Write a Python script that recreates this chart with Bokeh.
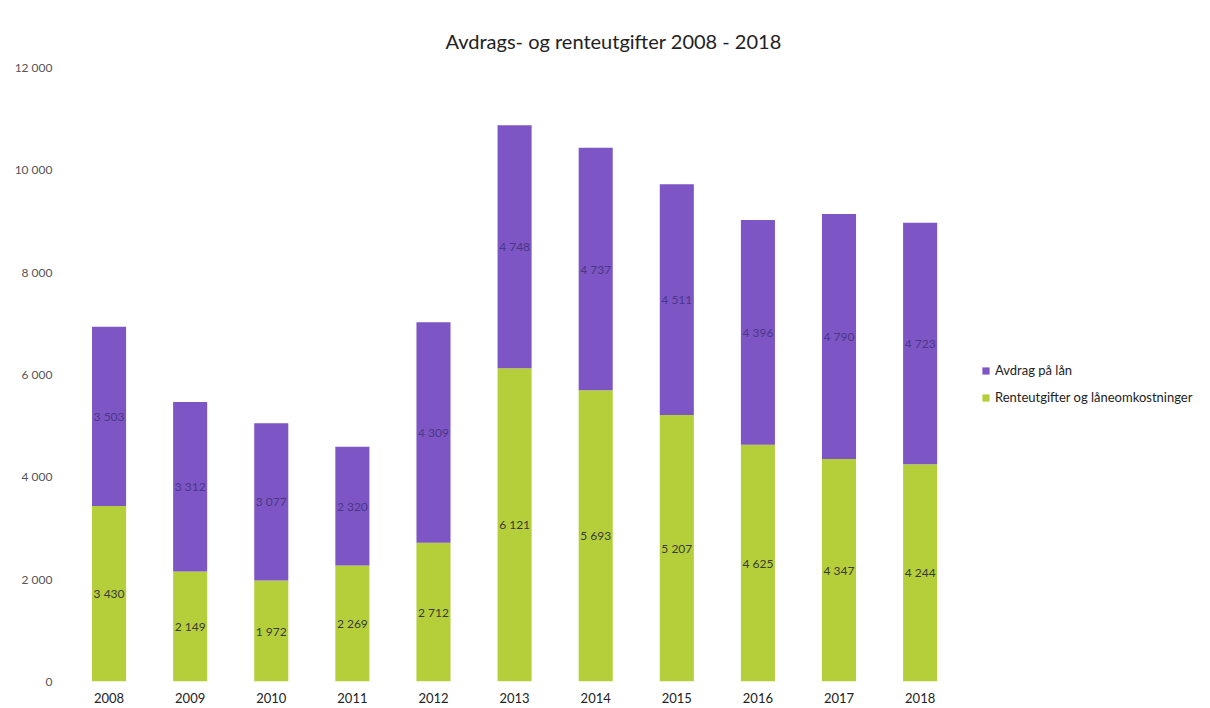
from bokeh.plotting import figure
from bokeh.models import ColumnDataSource, Legend, LegendItem, CustomJSTickFormatter, FixedTicker, Range1d
from bokeh.core.properties import value
from bokeh.embed import file_html
from bokeh.resources import INLINE

years = ["2008", "2009", "2010", "2011", "2012", "2013", "2014", "2015", "2016", "2017", "2018"]
renter = [3430, 2149, 1972, 2269, 2712, 6121, 5693, 5207, 4625, 4347, 4244]
avdrag = [3503, 3312, 3077, 2320, 4309, 4748, 4737, 4511, 4396, 4790, 4723]
y_ticks = [0, 2000, 4000, 6000, 8000, 10000, 12000]

def fmt(v):
    return "{:,}".format(v).replace(",", " ")

xpos = list(range(len(years)))
src = ColumnDataSource(dict(
    x=xpos,
    year=years,
    renter=renter,
    avdrag=avdrag,
    g_mid=[r / 2 for r in renter],
    p_mid=[r + a / 2 for r, a in zip(renter, avdrag)],
    g_lab=[fmt(v) for v in renter],
    p_lab=[fmt(v) for v in avdrag],
))

FONT = "Lato"
GREEN = "#B5CF3B"
PURPLE = "#7D55C4"

# frame spans the legend area too; 11 category slots of ~81 px each on the left
p = figure(x_range=Range1d(-0.5, 13.58), y_range=Range1d(0, 12000),
           frame_width=1142, frame_height=614, output_backend="svg", toolbar_location=None,
           min_border_left=68, min_border_right=0, min_border_top=67, min_border_bottom=20)

r = p.vbar_stack(["renter", "avdrag"], x="x", width=0.42, source=src,
                 color=[GREEN, PURPLE], line_color=None)

p.text(x="x", y="g_mid", text="g_lab", source=src, text_align="center", text_baseline="middle",
       text_font=value(FONT), text_font_size="12px", text_color="#3a3a3a")
p.text(x="x", y="p_mid", text="p_lab", source=src, text_align="center", text_baseline="middle",
       text_font=value(FONT), text_font_size="12px", text_color="#4a3888")

p.title.text = "Avdrags- og renteutgifter 2008 - 2018"
p.title.align = "left"
p.title.offset = 377
p.title.text_font = FONT
p.title.text_font_size = "20px"
p.title.text_font_style = "normal"
p.title.text_color = "#222222"
p.title.standoff = 30

p.xgrid.grid_line_color = None
p.ygrid.grid_line_color = None
p.outline_line_color = None

p.xaxis.ticker = FixedTicker(ticks=xpos)
p.xaxis.major_label_overrides = {i: y for i, y in zip(xpos, years)}
p.yaxis.ticker = FixedTicker(ticks=y_ticks)
p.yaxis.formatter = CustomJSTickFormatter(code="return tick == 0 ? '0' : tick.toString().replace(/\\B(?=(\\d{3})+(?!\\d))/g, ' ');")
for ax in (p.xaxis, p.yaxis):
    ax.axis_line_color = None
    ax.major_tick_line_color = None
    ax.minor_tick_line_color = None
    ax.major_label_text_font = FONT
p.yaxis.major_label_text_font_size = "12px"
p.yaxis.major_label_text_color = "#555555"
p.yaxis.major_label_standoff = 10
p.xaxis.major_label_text_font_size = "13px"
p.xaxis.major_label_text_color = "#222222"
p.xaxis.major_label_standoff = 5

legend = Legend(items=[LegendItem(label="Avdrag på lån", renderers=[r[1]]),
                       LegendItem(label="Renteutgifter og låneomkostninger", renderers=[r[0]])],
                location=(913, 276), orientation="vertical",
                label_text_font=FONT, label_text_font_size="13px", label_text_color="#222222",
                glyph_width=9, glyph_height=9, spacing=11, border_line_color=None,
                background_fill_alpha=0, margin=0, padding=3, label_standoff=5)
p.add_layout(legend, "center")

open("out.html", "w").write(file_html(p, INLINE))
